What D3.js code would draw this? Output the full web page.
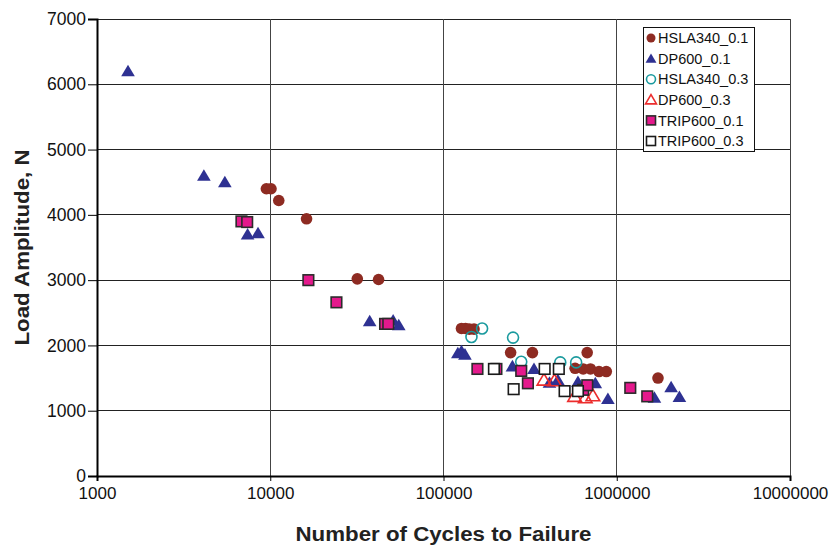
<!DOCTYPE html>
<html>
<head>
<meta charset="utf-8">
<script src="https://cdn.jsdelivr.net/npm/d3@7"></script>
<style>
  body { margin: 0; background: #fff; }
  #vis text { font-family: "Liberation Sans", Arial, sans-serif; }
</style>
</head>
<body>
<div id="vis"></div>
<script>
const margin = { top: 19, right: 46, bottom: 70, left: 97 };
const W = 836, H = 546;

// tick labels
const xTicks = [1000, 10000, 100000, 1000000, 10000000];
const yTicks = [0, 1000, 2000, 3000, 4000, 5000, 6000, 7000];

// series: [cycles, load]
const hsla01 = [
  [9500, 4400], [10100, 4400], [11200, 4220], [16200, 3940],
  [31800, 3020], [42200, 3010],
  [127000, 2260], [134000, 2260], [141000, 2250], [150000, 2250],
  [244000, 1890], [326000, 1890], [675000, 1890],
  [575000, 1650], [640000, 1640], [705000, 1640], [790000, 1600], [870000, 1600],
  [1730000, 1500]
];
const dp01 = [
  [1510, 6200], [4140, 4600], [5470, 4500], [7400, 3700], [8500, 3720],
  [37500, 2370], [51200, 2380], [55200, 2310],
  [121000, 1880], [127000, 1910], [133000, 1860],
  [250000, 1680], [333000, 1640], [409000, 1430], [457000, 1470],
  [597000, 1440], [752000, 1420], [889000, 1180],
  [1650000, 1200], [2060000, 1360], [2300000, 1210]
];
const hsla03 = [
  [145000, 2130], [167000, 2260], [252000, 2120],
  [281000, 1750], [472000, 1740], [583000, 1740]
];
const dp03 = [
  [380000, 1470], [437000, 1460], [571000, 1220], [658000, 1200], [728000, 1230]
];
const trip01 = [
  [6820, 3900], [7360, 3890], [16600, 3000], [24100, 2660],
  [46000, 2330], [48000, 2330],
  [157000, 1640], [202000, 1640], [281000, 1610], [307000, 1420],
  [640000, 1320], [676000, 1390], [1197000, 1350], [1500000, 1220]
];
const trip03 = [
  [195500, 1640], [254000, 1330], [383600, 1640], [463000, 1640],
  [500000, 1300], [597000, 1300]
];

const series = [
  { name: 'HSLA340_0.1', values: hsla01, shape: 'circle', fill: '#8e2b22', stroke: 'none' },
  { name: 'DP600_0.1', values: dp01, shape: 'triangle', fill: '#2e3192', stroke: 'none' },
  { name: 'HSLA340_0.3', values: hsla03, shape: 'circle', fill: 'none', stroke: '#1a9a9e' },
  { name: 'DP600_0.3', values: dp03, shape: 'triangle', fill: 'none', stroke: '#ec2d2d' },
  { name: 'TRIP600_0.1', values: trip01, shape: 'square', fill: '#e4198c', stroke: '#2b2b2b' },
  { name: 'TRIP600_0.3', values: trip03, shape: 'square', fill: '#fff', stroke: '#1a1a1a' }
];

const width = W - margin.left - margin.right;
const height = H - margin.top - margin.bottom;

const $svg = d3.select('#vis').append('svg')
  .attr('width', W)
  .attr('height', H);

const $plot = $svg.append('g')
  .attr('transform', `translate(${margin.left}, ${margin.top})`);

const x = d3.scaleLog().domain([1000, 10000000]).range([0, width]);
const y = d3.scaleLinear().domain([0, 7000]).range([height, 0]);

// grid
$plot.append('g')
  .selectAll('line')
  .data(yTicks)
  .enter().append('line')
  .attr('x1', 0).attr('x2', width)
  .attr('y1', d => y(d)).attr('y2', d => y(d))
  .attr('stroke', '#222').attr('stroke-width', 1)
  .attr('shape-rendering', 'crispEdges');

$plot.append('g')
  .selectAll('line')
  .data(xTicks)
  .enter().append('line')
  .attr('x1', d => x(d)).attr('x2', d => x(d))
  .attr('y1', 0).attr('y2', height)
  .attr('stroke', '#444').attr('stroke-width', 1)
  .attr('shape-rendering', 'crispEdges');

// axes
const xAxis = d3.axisBottom(x)
  .tickValues(xTicks)
  .tickFormat(d3.format('d'))
  .tickSize(5)
  .tickPadding(6);

const yAxis = d3.axisLeft(y)
  .tickValues(yTicks)
  .tickFormat(d3.format('d'))
  .tickSize(9)
  .tickPadding(2);

$plot.append('g')
  .attr('class', 'axis x')
  .attr('transform', `translate(0, ${height})`)
  .call(xAxis)
  .call(g => g.select('.domain').attr('stroke', '#000').attr('stroke-width', 2))
  .call(g => g.selectAll('text').attr('font-size', 17).attr('fill', '#111'));

$plot.append('g')
  .attr('class', 'axis y')
  .call(yAxis)
  .call(g => g.select('.domain').attr('stroke', '#000').attr('stroke-width', 2))
  .call(g => g.selectAll('text').attr('font-size', 17.5).attr('fill', '#111'));

// axis titles
$svg.append('text')
  .attr('x', margin.left + width / 2)
  .attr('y', 541)
  .attr('text-anchor', 'middle')
  .attr('font-size', 20)
  .attr('font-weight', 700)
  .attr('textLength', 296)
  .attr('lengthAdjust', 'spacingAndGlyphs')
  .attr('fill', '#222')
  .text('Number of Cycles to Failure');

$svg.append('text')
  .attr('transform', `translate(29, ${margin.top + height / 2}) rotate(-90)`)
  .attr('text-anchor', 'middle')
  .attr('font-size', 20)
  .attr('font-weight', 700)
  .attr('textLength', 196)
  .attr('lengthAdjust', 'spacingAndGlyphs')
  .attr('fill', '#222')
  .text('Load Amplitude, N');

// markers
function marker(sel, s, size) {
  if (s.shape === 'circle') {
    sel.append('circle').attr('r', size === 'leg' ? 4.5 : (s.fill === 'none' ? 5.5 : 5.8));
  } else if (s.shape === 'triangle') {
    const r = size === 'leg' ? 5.2 : 6.5;
    sel.append('path').attr('d', `M0,${-r}L${r * 1.05},${r * 0.78}L${-r * 1.05},${r * 0.78}Z`);
  } else {
    const h = size === 'leg' ? 4.5 : 5.3;
    sel.append('rect').attr('x', -h).attr('y', -h).attr('width', 2 * h).attr('height', 2 * h);
  }
  sel.selectAll('circle, path, rect')
    .attr('fill', s.fill)
    .attr('stroke', s.stroke)
    .attr('stroke-width', s.stroke === 'none' ? 0 : 1.6);
}

const $series = $plot.append('g')
  .selectAll('.series')
  .data(series)
  .enter().append('g')
  .attr('class', 'series');

$series.each(function (s) {
  d3.select(this).selectAll('.pt')
    .data(s.values)
    .enter().append('g')
    .attr('class', 'pt')
    .attr('transform', d => `translate(${x(d[0])}, ${y(d[1])})`)
    .each(function () { marker(d3.select(this), s, 'pt'); });
});

// legend
const $legend = $svg.append('g')
  .attr('transform', 'translate(643, 27)');

$legend.append('rect')
  .attr('width', 111).attr('height', 124)
  .attr('fill', '#fff')
  .attr('stroke', '#111').attr('stroke-width', 1)
  .attr('shape-rendering', 'crispEdges');

const $items = $legend.selectAll('.item')
  .data(series)
  .enter().append('g')
  .attr('class', 'item')
  .attr('transform', (d, i) => `translate(8, ${11 + i * 20.6})`);

$items.each(function (s) { marker(d3.select(this), s, 'leg'); });

$items.append('text')
  .attr('x', 7)
  .attr('dy', '0.36em')
  .attr('font-size', 14.5)
  .attr('fill', '#111')
  .text(d => d.name);
</script>
</body>
</html>
